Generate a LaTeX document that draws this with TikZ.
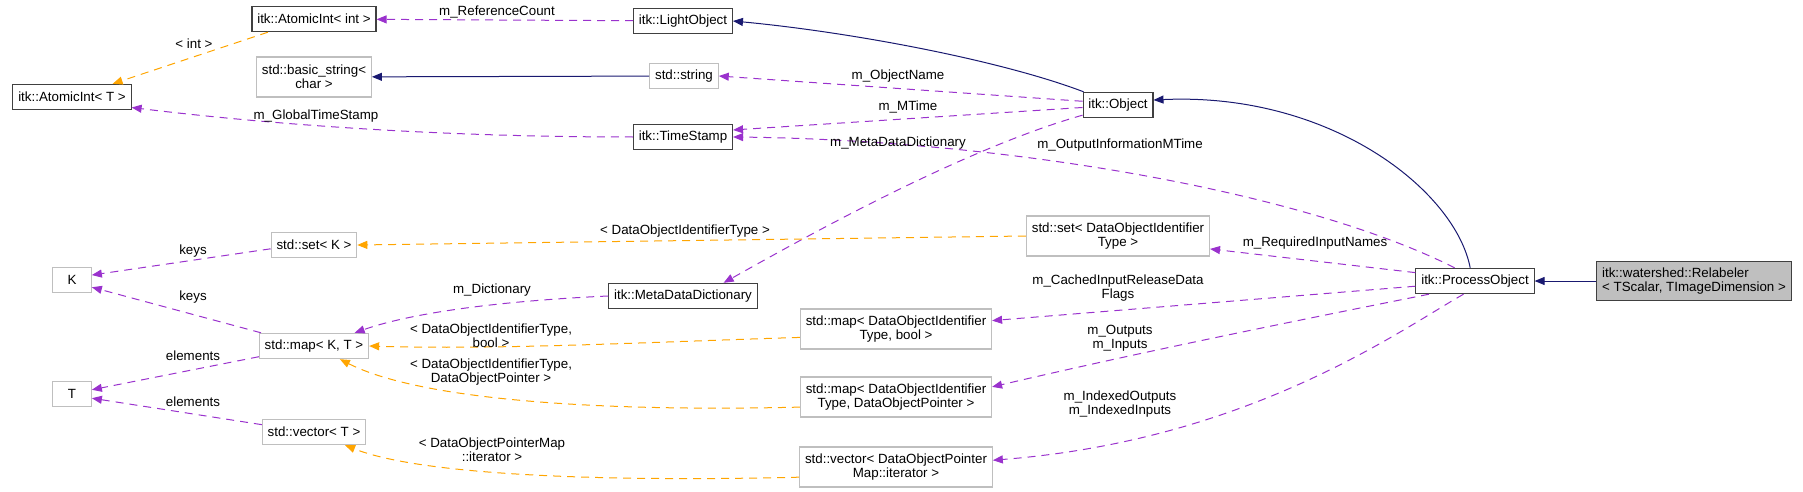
\documentclass[tikz,border=0pt]{standalone}
\usepackage{fontspec}
\setmainfont{Liberation Sans}
\usepackage{tikz}
\usetikzlibrary{arrows.meta,positioning}
\definecolor{memcol}{HTML}{9A32CD}
\definecolor{tplcol}{HTML}{FFA500}
\definecolor{inhcol}{HTML}{191970}
\tikzset{box/.style={draw, rectangle, inner xsep=4pt, inner ysep=0pt, minimum height=19pt, align=center, font=\fontsize{10}{10.5}\selectfont}}
\tikzset{cls/.style={box, draw=black!75, line width=0.8pt}}
\tikzset{ext/.style={box, draw=black!25, line width=0.8pt}}
\tikzset{lbl/.style={inner sep=0pt, align=center, font=\fontsize{10}{10.5}\selectfont}}
\tikzstyle{mem}=[draw=memcol, dash pattern=on 6pt off 4.5pt, -{Triangle[width=6pt,length=7.5pt]}]
\tikzstyle{tpl}=[draw=tplcol, dash pattern=on 6pt off 4.5pt, -{Triangle[width=6pt,length=7.5pt]}]
\tikzstyle{inh}=[draw=inhcol, -{Triangle[width=6pt,length=7.5pt]}]

\begin{document}
\begin{tikzpicture}[x=0.75pt, y=-0.75pt, line width=0.75pt]
\useasboundingbox (0,0) rectangle (1803,492);
\node[cls] (aint) at (314,19) {itk::AtomicInt< int >};
\node[cls] (lobj) at (683,21) {itk::LightObject};
\node[cls] (aintT) at (72,97) {itk::AtomicInt< T >};
\node[ext, minimum height=30pt] (bstr) at (314,77) {std::basic\_string<\\char >};
\node[ext] (str) at (684,76) {std::string};
\node[cls] (obj) at (1118,105) {itk::Object};
\node[cls] (ts) at (683,137) {itk::TimeStamp};
\node[ext] (setK) at (314,245) {std::set< K >};
\node[ext, minimum width=29pt] (K) at (72,280) {K};
\node[cls] (mdd) at (683,296) {itk::MetaDataDictionary};
\node[ext, minimum height=30pt] (setD) at (1118,236) {std::set< DataObjectIdentifier\\Type >};
\node[cls] (po) at (1475,281) {itk::ProcessObject};
\node[cls, fill=black!25, minimum height=29pt, align=left] (rel) at (1694,281) {itk::watershed::Relabeler\\< TScalar, TImageDimension >};
\node[ext] (mapKT) at (314,346) {std::map< K, T >};
\node[ext, minimum height=30pt] (mapDB) at (896,329) {std::map< DataObjectIdentifier\\Type, bool >};
\node[ext, minimum width=29pt] (T) at (72,394) {T};
\node[ext, minimum height=30pt] (mapDP) at (896,397) {std::map< DataObjectIdentifier\\Type, DataObjectPointer >};
\node[ext] (vecT) at (314,432) {std::vector< T >};
\node[ext, minimum height=30pt] (vecDP) at (896,467) {std::vector< DataObjectPointer\\Map::iterator >};
% inheritance
\path[inh] (rel) -- (po);
\path[inh] (po.110) .. controls (1455,190) and (1330,92) .. (obj.8);
\path[inh] (obj.159) .. controls (1000,60) and (850,32) .. (lobj.east);
\path[inh] (str) -- (bstr);
% members
\path[mem] (lobj) -- (aint);
\path[mem] (ts.west) .. controls (420,137) and (250,122) .. (aintT.350);
\path[mem] (obj.174) -- (str.east);
\path[mem] (obj.184) -- (ts.8);
\path[mem] (obj.196) .. controls (960,150) and (800,240) .. (mdd.18);
\path[mem] (po.147) .. controls (1300,190) and (1000,140) .. (ts.east);
\path[mem] (po.172) -- (setD.352);
\path[mem] (po.185) -- (mapDB.5);
\path[mem] (po.196) .. controls (1300,320) and (1150,350) .. (mapDP.6);
\path[mem] (po.229) .. controls (1400,330) and (1250,440) .. (vecDP.4);
\path[mem] (setK.185) -- (K.14);
\path[mem] (mapKT.166) -- (K.340);
\path[mem] (mapKT.191) -- (T.12);
\path[mem] (vecT.172) -- (T.348);
\path[mem] (mdd.west) .. controls (520,300) and (420,310) .. (mapKT.18);
% templates
\path[tpl] (aint.196) -- (aintT.18);
\path[tpl] (setD.west) -- (setK.east);
\path[tpl] (mapDB.185) .. controls (650,342) and (500,350) .. (mapKT.east);
\path[tpl] (mapDP.186) .. controls (600,412) and (420,400) .. (mapKT.333);
\path[tpl] (vecDP.186) .. controls (600,482) and (420,475) .. (vecT.337);
% labels
\node[lbl] (lRef) at (497,12) {m\_ReferenceCount};
\node[lbl] (lInt) at (194,44) {< int >};
\node[lbl] (lGlob) at (316,116) {m\_GlobalTimeStamp};
\node[lbl] (lName) at (898,76) {m\_ObjectName};
\node[lbl] (lMTime) at (908,107) {m\_MTime};
\node[lbl] (lMdd) at (898,143) {m\_MetaDataDictionary};
\node[lbl] (lOut) at (1120,145) {m\_OutputInformationMTime};
\node[lbl] (lDoit) at (685,231) {< DataObjectIdentifierType >};
\node[lbl] (lReq) at (1315,243) {m\_RequiredInputNames};
\node[lbl] (lKeys1) at (193,251) {keys};
\node[lbl] (lDict) at (492,290) {m\_Dictionary};
\node[lbl] (lKeys2) at (193,297) {keys};
\node[lbl] (lBool) at (491,336) {< DataObjectIdentifierType,\\bool >};
\node[lbl] (lEl1) at (193,356) {elements};
\node[lbl] (lPtr) at (491,372) {< DataObjectIdentifierType,\\DataObjectPointer >};
\node[lbl] (lEl2) at (193,402) {elements};
\node[lbl] (lIter) at (492,450) {< DataObjectPointerMap\\::iterator >};
\node[lbl] (lCache) at (1118,288) {m\_CachedInputReleaseData\\Flags};
\node[lbl] (lIO) at (1120,338) {m\_Outputs\\m\_Inputs};
\node[lbl] (lIdx) at (1120,404) {m\_IndexedOutputs\\m\_IndexedInputs};
\end{tikzpicture}
\end{document}
